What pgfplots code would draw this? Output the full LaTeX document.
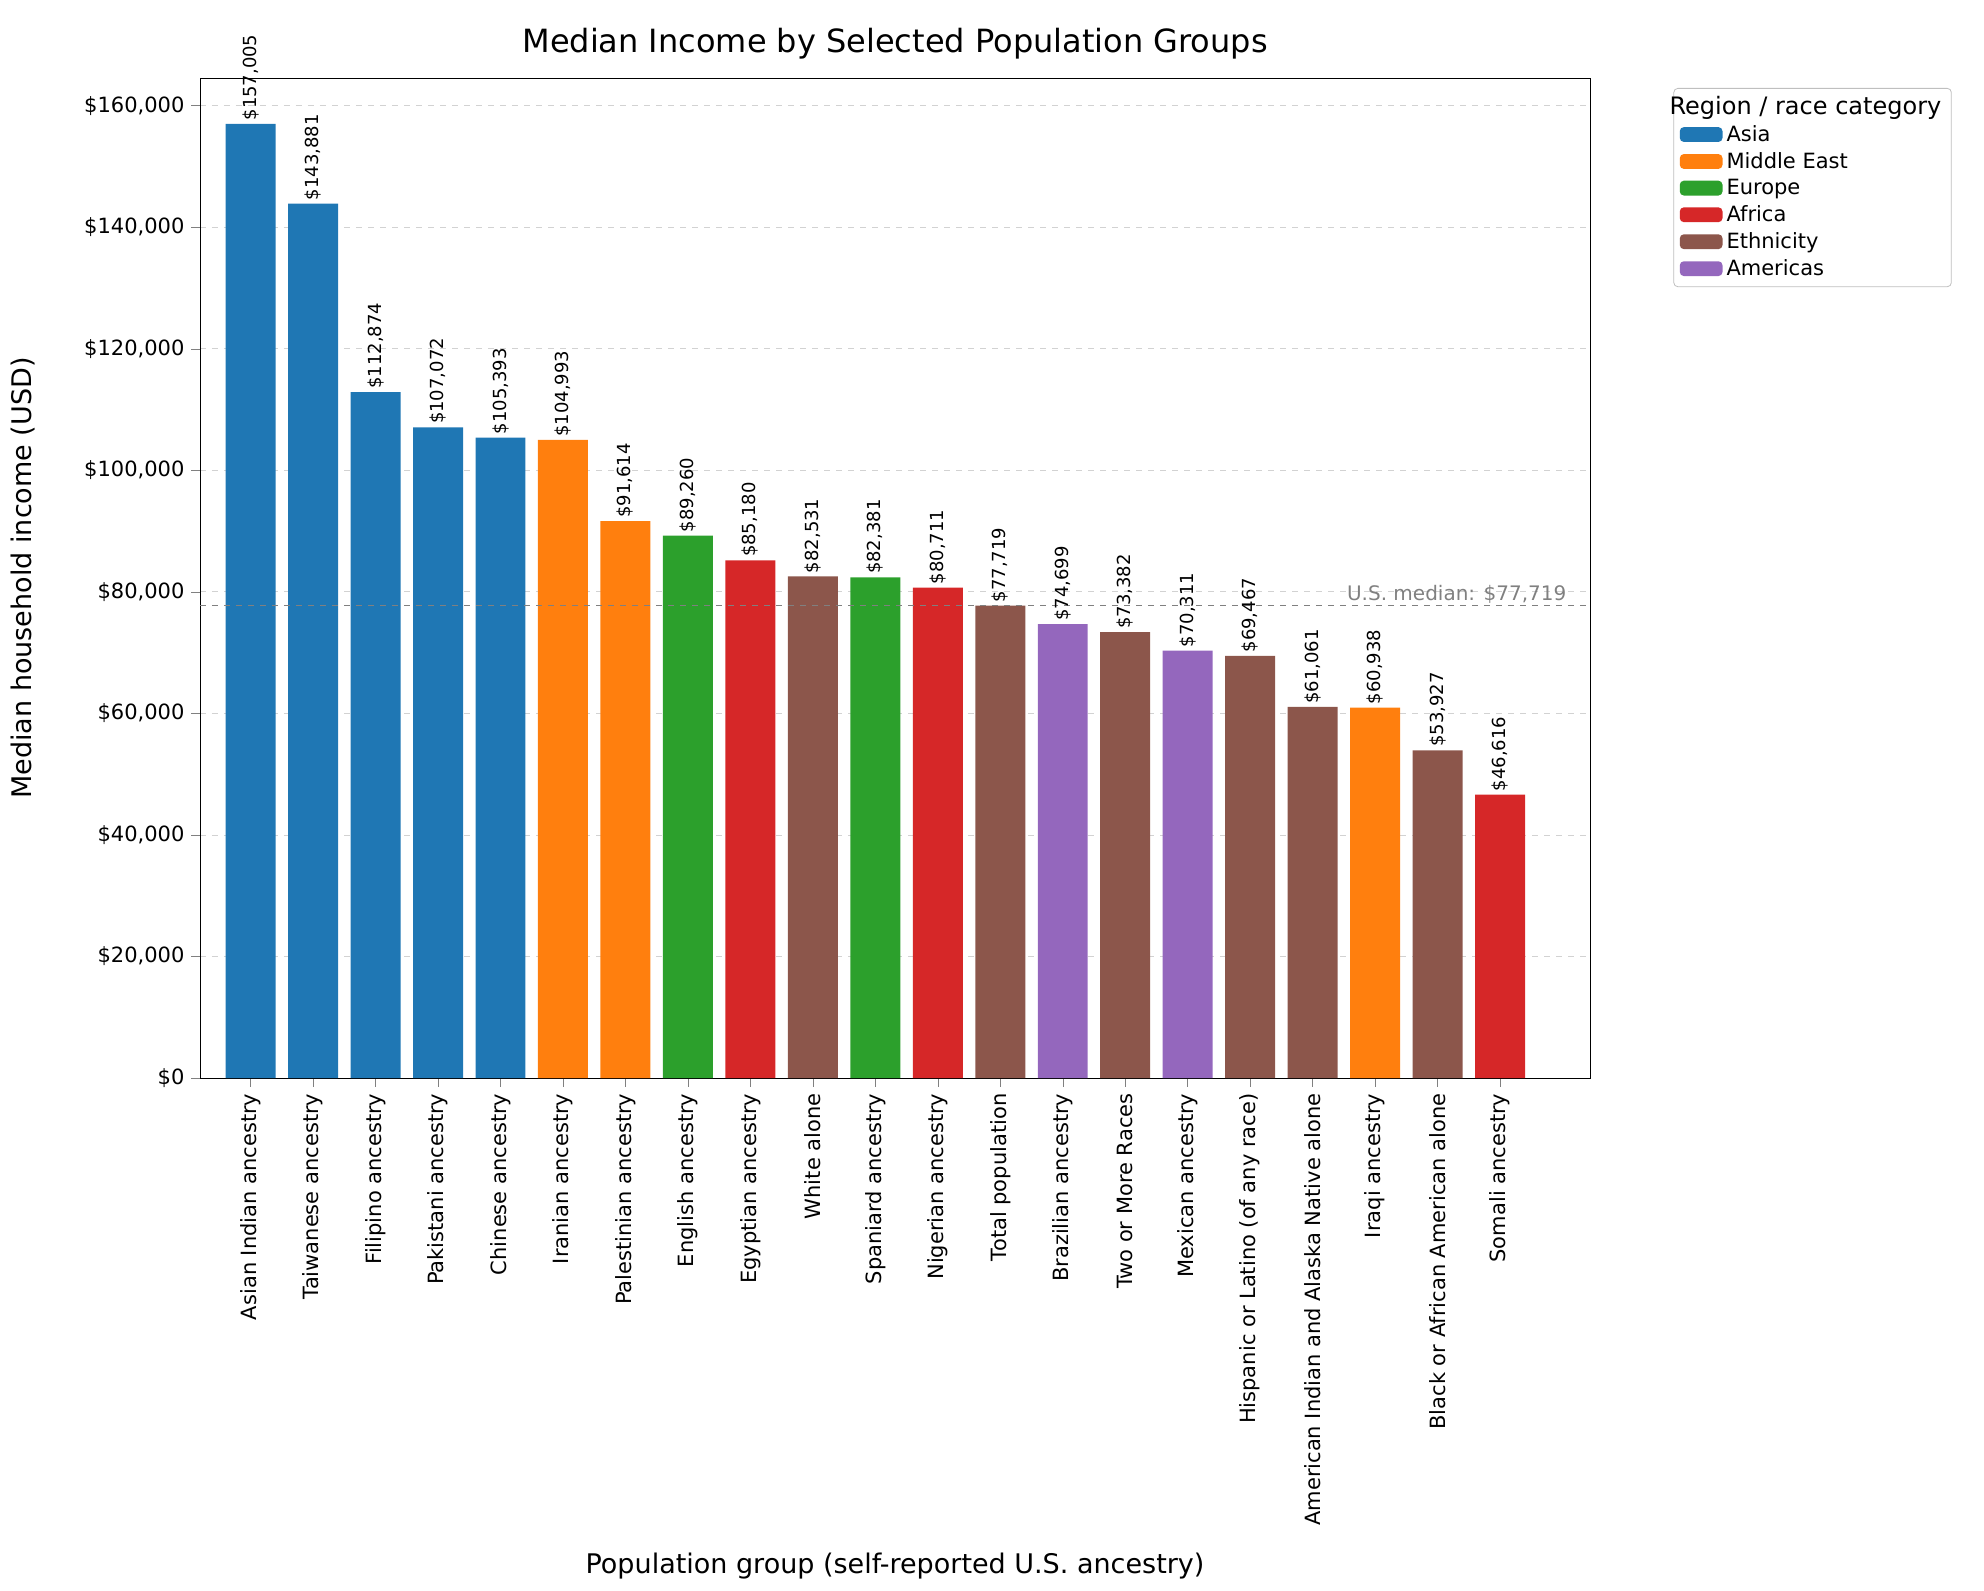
\documentclass[border=0pt]{standalone}
\usepackage{pgfplots}
\pgfplotsset{compat=1.18}
\usepackage{fontspec}
\setmainfont{DejaVu Sans}
\begin{document}
\begin{tikzpicture}
\definecolor{cA}{HTML}{1F77B4}\definecolor{cB}{HTML}{FF7F0E}\definecolor{cC}{HTML}{2CA02C}
\definecolor{cD}{HTML}{D62728}\definecolor{cE}{HTML}{8C564B}\definecolor{cF}{HTML}{9467BD}
\begin{axis}[name=ax, at={(0,0)}, anchor=south west,
 width=695pt, height=500pt, scale only axis,
 xmin=-0.81, xmax=21.44, ymin=0, ymax=164550,
 ybar, bar width=0.8, bar shift=0pt,
 xtick={0,...,20},
 xticklabels={Asian Indian ancestry,Taiwanese ancestry,Filipino ancestry,Pakistani ancestry,Chinese ancestry,Iranian ancestry,Palestinian ancestry,English ancestry,Egyptian ancestry,White alone,Spaniard ancestry,Nigerian ancestry,Total population,Brazilian ancestry,Two or More Races,Mexican ancestry,Hispanic or Latino (of any race),American Indian and Alaska Native alone,Iraqi ancestry,Black or African American alone,Somali ancestry},
 xticklabel style={rotate=90, anchor=east, font=\fontsize{10.5}{12}\selectfont},
 ytick={0,20000,...,160000},
 yticklabel={\$\pgfmathprintnumber[fixed,precision=0,1000 sep={,}]{\tick}},
 yticklabel style={font=\fontsize{10.5}{12}\selectfont},
 scaled y ticks=false,
 /pgf/number format/assume math mode=true,
 ymajorgrids, grid style={dashed, gray!35},
 tick align=outside, xtick pos=bottom, ytick pos=left,
 ylabel={Median household income (USD)}, ylabel style={font=\fontsize{13.5}{15}\selectfont, at={(axis description cs:-0.127,0.5)}, anchor=center},
 xlabel={Population group (self-reported U.S. ancestry)}, xlabel style={font=\fontsize{13.5}{15}\selectfont, at={(axis description cs:0.5,-0.488)}, anchor=center},
 title={Median Income by Selected Population Groups}, title style={font=\fontsize{16}{18}\selectfont},
 point meta=y,
 nodes near coords={\$\pgfmathprintnumber[fixed,precision=0,1000 sep={,},assume math mode=true]{\pgfplotspointmeta}},
 every node near coord/.append style={rotate=90, anchor=west, font=\fontsize{9}{10}\selectfont, inner sep=1.5pt},
 legend style={at={(1.06,0.99)}, anchor=north west, font=\fontsize{10.5}{13}\selectfont, draw=gray!50, rounded corners=2pt},
 legend cell align=left,
 legend image code/.code={\fill[#1] (0cm,-0.12cm) rectangle (0.75cm,0.14cm);},
]
\addlegendimage{empty legend}\addlegendentry{\hspace{-1.0cm}\fontsize{12}{13}\selectfont Region / race category}
\addplot[fill=cA, draw=none] coordinates {(0,157005) (1,143881) (2,112874) (3,107072) (4,105393)};
\addlegendentry{Asia}
\addplot[fill=cB, draw=none] coordinates {(5,104993) (6,91614) (18,60938)};
\addlegendentry{Middle East}
\addplot[fill=cC, draw=none] coordinates {(7,89260) (10,82381)};
\addlegendentry{Europe}
\addplot[fill=cD, draw=none] coordinates {(8,85180) (11,80711) (20,46616)};
\addlegendentry{Africa}
\addplot[fill=cE, draw=none] coordinates {(9,82531) (12,77719) (14,73382) (16,69467) (17,61061) (19,53927)};
\addlegendentry{Ethnicity}
\addplot[fill=cF, draw=none] coordinates {(13,74699) (15,70311)};
\addlegendentry{Americas}
\addplot[sharp plot, no marks, nodes near coords={}, gray, dashed, thin, forget plot] coordinates {(-0.81,77719) (21.44,77719)};
\node[anchor=south east, text=gray, font=\fontsize{10}{11}\selectfont, inner sep=1pt] at (axis cs:21.1,77719) {U.S. median: \$77,719};
\end{axis}
\pgfresetboundingbox
\path[use as bounding box] ([xshift=-100pt,yshift=-256pt]ax.south west) rectangle ([xshift=197pt,yshift=39pt]ax.north east);
\end{tikzpicture}
\end{document}
